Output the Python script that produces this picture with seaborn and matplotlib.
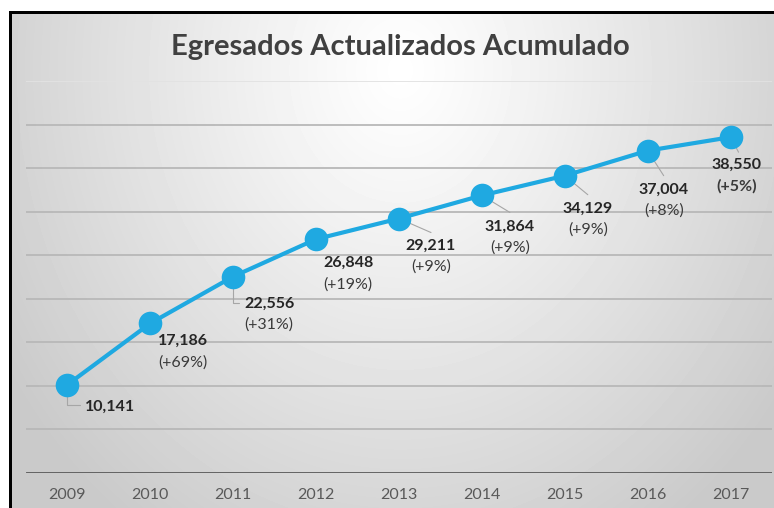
import numpy as np
import pandas as pd
import seaborn as sns
import matplotlib.pyplot as plt
from matplotlib.patches import Rectangle

years = ['2009', '2010', '2011', '2012', '2013', '2014', '2015', '2016', '2017']
egresados = [10141, 17186, 22556, 26848, 29211, 31864, 34129, 37004, 38550]
pct_labels = ['', '(+69%)', '(+31%)', '(+19%)', '(+9%)', '(+9%)', '(+9%)', '(+8%)', '(+5%)']

# label placement, in pixels from the marker centre
text_off = [(43, -22), (33, -18), (36, -27), (32, -24), (32, -27),
            (28, -31), (23, -33), (16, -39), (6, -28)]
leader_off = [(13, -20), None, (6, -26), None, (32, -14),
              (28, -17), (23, -19), (16, -25), (8, -15)]
leader_angle = [True, False, True, False, False, False, False, False, False]

sns.set_theme(style='white')
plt.rcParams['font.family'] = ['Lato', 'DejaVu Sans']

fig = plt.figure(figsize=(7.74, 5.08), dpi=100)

# gradient background inside the frame
bg = fig.add_axes([0, 0, 1, 1], zorder=0)
W, H = 774, 508
xx, yy = np.meshgrid(np.arange(W), np.arange(H))
r = np.sqrt(((xx - 400) / 470.0) ** 2 + ((yy - 70) / 560.0) ** 2)
shade = 1 - 0.21 * np.clip(r, 0, 1) ** 1.1
bg.imshow(shade, cmap='gray', vmin=0, vmax=1, extent=[0, W, H, 0],
          aspect='auto', interpolation='bilinear')
bg.add_patch(Rectangle((0, 0), W, 11, color='white', lw=0))
bg.add_patch(Rectangle((0, 0), 9, H, color='white', lw=0))
bg.add_patch(Rectangle((9, 11), 2.5, H, color='black', lw=0))
bg.add_patch(Rectangle((9, 11), W, 2.5, color='black', lw=0))
bg.set_xlim(0, W)
bg.set_ylim(H, 0)
bg.axis('off')

ax = fig.add_axes([26 / W, 35 / H, 746 / W, 392 / H], zorder=1)
ax.set_facecolor('none')

df = pd.DataFrame({'pos': np.arange(len(years)), 'egresados': egresados})
sns.lineplot(data=df, x='pos', y='egresados', ax=ax, color='#1FA9E1',
             linewidth=3, marker='o', markersize=17, markeredgewidth=0, zorder=3)

ax.set_xlim(-0.5, len(years) - 0.5)
ax.set_ylim(0, 45000)
ax.set_yticks(np.arange(5000, 45001, 5000))
for yv in np.arange(5000, 45001, 5000):
    c = '#e2e2e2' if yv == 45000 else '#b8b8b8'
    ax.axhline(yv, color=c, lw=1.3, zorder=1)
ax.axhline(0, color='#595959', lw=2, zorder=2)
ax.set_yticklabels([])
ax.tick_params(axis='y', length=0)
ax.set_xticks(np.arange(len(years)))
ax.set_xticklabels(years, fontsize=11.5, color='#595959')
ax.tick_params(axis='x', length=0, pad=11)
ax.set_xlabel('')
ax.set_ylabel('')
for s in ax.spines.values():
    s.set_visible(False)

for i, v in enumerate(egresados):
    dx, dy = text_off[i]
    if leader_off[i] is not None:
        lx, ly = leader_off[i]
        cs = 'angle,angleA=0,angleB=90,rad=0' if leader_angle[i] else 'arc3'
        ax.annotate('', xy=(i, v), xytext=(lx, ly), textcoords='offset pixels',
                    arrowprops=dict(arrowstyle='-', color='#a6a6a6', lw=0.8,
                                    shrinkA=0, shrinkB=0, connectionstyle=cs),
                    zorder=2)
    ax.annotate(f'{v:,}', xy=(i, v), xytext=(dx, dy), textcoords='offset pixels',
                ha='center', va='center', fontsize=11.5, fontweight='bold',
                color='#262626', zorder=4)
    if pct_labels[i]:
        ax.annotate(pct_labels[i], xy=(i, v), xytext=(dx, dy - 21),
                    textcoords='offset pixels', ha='center', va='center',
                    fontsize=11.5, color='#3a3a3a',
                    fontweight='bold' if i == len(years) - 1 else 'normal',
                    zorder=4)

fig.text(400 / W, 1 - 47 / H, 'Egresados Actualizados Acumulado', ha='center',
         va='center', fontsize=21, fontweight='bold', color='#404040')

fig.savefig('out.png', dpi=100)
